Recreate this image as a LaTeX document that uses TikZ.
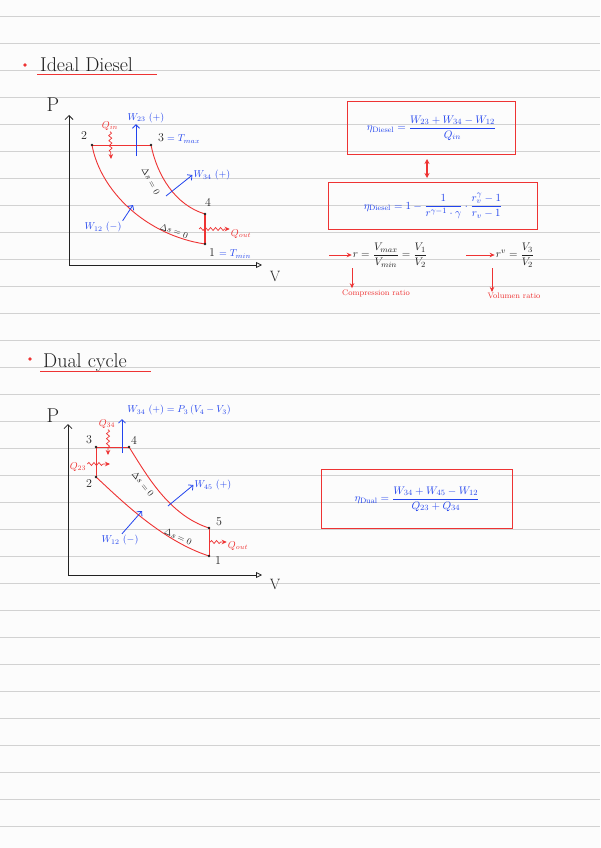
\documentclass[tikz,border=0pt]{standalone}
\usepackage{amsmath,amssymb}
\usepackage{xcolor}
\usepackage{tikz}
\usetikzlibrary{arrows.meta,decorations.pathmorphing}

\definecolor{penred}{HTML}{EE3333}
\definecolor{penblue}{HTML}{2244EE}
\definecolor{penblack}{HTML}{222222}
\definecolor{paper}{HTML}{FCFCFC}
\definecolor{ruleline}{HTML}{D2D2D2}

\tikzset{
  axis/.style={penblack, line width=0.8pt},
  cycleline/.style={penred, line width=0.9pt},
  workarrow/.style={penblue, line width=0.8pt, -{Straight Barb[length=3.5pt]}},
  heatwave/.style={penred, line width=0.7pt, -{Stealth[length=5pt,width=4.5pt]},
    decorate, decoration={snake, amplitude=1.5pt, segment length=5pt, post length=5pt}},
  redarrow/.style={penred, line width=0.8pt, -{Stealth[length=5pt,width=4.5pt]}},
  lbl/.style={penblack, font=\fontsize{12}{12}\selectfont, inner sep=1pt},
  wlbl/.style={penblue, font=\fontsize{10}{10}\selectfont, inner sep=1pt},
  qlbl/.style={penred, font=\fontsize{10}{10}\selectfont, inner sep=1pt},
  slbl/.style={penblack, font=\fontsize{9}{9}\selectfont, inner sep=0pt},
  notelbl/.style={penred, font=\fontsize{8}{8}\selectfont, inner sep=1pt},
  effbox/.style={penblue, font=\fontsize{11}{13}\selectfont, inner sep=0pt},
  boxline/.style={draw=penred, line width=0.9pt},
  heading/.style={penblack, font=\fontsize{20}{20}\selectfont, inner sep=0pt, anchor=base west},
}

\begin{document}
\begin{tikzpicture}[x=1pt, y=-1pt]
  \useasboundingbox (0,0) rectangle (600,848);
  \fill[paper] (0,0) rectangle (600,848);
  \foreach \k in {0,...,30}
    \draw[ruleline, line width=0.7pt] (0,{16.3+27*\k}) -- (600,{16.3+27*\k});

  % ---- Ideal Diesel ----
  \fill[penred] (25,65) circle (1.8);
  \node[heading] (title1) at (40,72) {Ideal Diesel};
  \coordinate (ul1a) at (37,74.5);
  \coordinate (ul1b) at (157,74.5);
  \draw[penred, line width=0.9pt] (ul1a) -- (ul1b);

  \coordinate (o1) at (69,265);
  \coordinate (ptop1) at (69,115);
  \coordinate (vend1) at (262,265);
  \draw[axis, {Triangle[open,length=6pt,width=6pt]}-{Straight Barb[length=4pt]}] (vend1) -- (o1) -- (ptop1);
  \node[penblack, font=\fontsize{20}{20}\selectfont] (pax1) at (53,105) {P};
  \node[penblack, font=\fontsize{15}{15}\selectfont] (vax1) at (275,276) {V};

  \coordinate (a1) at (205,244);
  \coordinate (a2) at (92,145);
  \coordinate (a3) at (151,145);
  \coordinate (a4) at (205,214);
  \draw[cycleline] (a2) -- (a3);
  \draw[cycleline] (a3) .. controls (157,175) and (175,205) .. (a4);
  \draw[cycleline, line width=1.4pt] (a4) -- (a1);
  \draw[cycleline] (a2) .. controls (100,190) and (145,235) .. (a1);
  \foreach \p in {a1,a2,a3,a4}
    \fill[penblack] (\p) circle (1.4);

  \node[lbl] (n2) at (84,136) {2};
  \node[lbl] (n3) at (161,138) {3};
  \node[wlbl, anchor=west] (tmax) at (166,139) {$=T_{max}$};
  \node[lbl] (n4) at (208,202) {4};
  \node[lbl] (n1) at (212,253) {1};
  \node[wlbl, anchor=west] (tmin) at (218,254) {$=T_{min}$};

  \node[qlbl] (qin) at (110,126) {$Q_{in}$};
  \coordinate (qinend) at (111,159);
  \draw[heatwave] (qin.south) -- (qinend);
  \node[wlbl] (w23) at (146,118) {$W_{23}\ (+)$};
  \coordinate (w23foot) at (136,156);
  \draw[workarrow] (w23foot) -- (w23foot |- w23.south);
  \node[wlbl] (w34) at (212,175) {$W_{34}\ (+)$};
  \coordinate (w34foot) at (166,196);
  \draw[workarrow] (w34foot) -- (w34.west);
  \node[wlbl] (w12) at (103,227) {$W_{12}\ (-)$};
  \coordinate (w12tip) at (133,205);
  \draw[workarrow] (w12.north east) -- (w12tip);
  \node[qlbl] (qout) at (241,234) {$Q_{out}$};
  \coordinate (qoutfoot) at (199,229);
  \draw[heatwave] (qoutfoot) -- (qout.west |- qoutfoot);
  \node[slbl, rotate=-62] (ds34) at (151,181) {$\Delta s=0$};
  \node[slbl, rotate=-19] (ds12) at (174,231) {$\Delta s=0$};

  % efficiency, Diesel
  \node[effbox, minimum width=167pt, minimum height=52pt] (eff1) at (431.5,128)
    {$\eta_{\text{Diesel}} = \dfrac{W_{23}+W_{34}-W_{12}}{Q_{in}}$};
  \draw[boxline] (eff1.north west) rectangle (eff1.south east);
  \node[effbox, minimum width=208pt, minimum height=46pt] (eff2) at (433,206)
    {$\eta_{\text{Diesel}} = 1-\dfrac{1}{r^{\gamma-1}\cdot\gamma}\cdot\dfrac{r_v^{\gamma}-1}{r_v-1}$};
  \draw[boxline] (eff2.north west) rectangle (eff2.south east);
  \coordinate (dbl1) at (427,159);
  \coordinate (dbl2) at (427,178);
  \draw[penred, line width=1.2pt, {Stealth[length=5pt,width=5pt]}-{Stealth[length=5pt,width=5pt]}] (dbl1) -- (dbl2);

  \node[penblack, font=\fontsize{11}{11}\selectfont, inner sep=1pt] (rc) at (390,255)
    {$r=\dfrac{V_{max}}{V_{min}}=\dfrac{V_1}{V_2}$};
  \node[penblack, font=\fontsize{11}{11}\selectfont, inner sep=1pt] (rv) at (515,255)
    {$r^{v}=\dfrac{V_3}{V_2}$};
  \coordinate (rcin) at (329,255);
  \coordinate (rvin) at (466,255);
  \draw[redarrow] (rcin) -- (rc.west);
  \draw[redarrow] (rvin) -- (rv.west);
  \node[notelbl] (crlbl) at (376,293) {Compression ratio};
  \node[notelbl] (vrlbl) at (514,296) {Volumen ratio};
  \coordinate (crtop) at (352,268);
  \coordinate (vrtop) at (492,268);
  \draw[redarrow] (crtop) -- (crtop |- crlbl.north);
  \draw[redarrow] (vrtop) -- (vrtop |- vrlbl.north);

  % ---- Dual cycle ----
  \fill[penred] (30,359) circle (1.8);
  \node[heading] (title2) at (43,367) {Dual cycle};
  \coordinate (ul2a) at (40,371);
  \coordinate (ul2b) at (151,371);
  \draw[penred, line width=0.9pt] (ul2a) -- (ul2b);

  \coordinate (o2) at (68,575);
  \coordinate (ptop2) at (68,424);
  \coordinate (vend2) at (262,575);
  \draw[axis, {Triangle[open,length=6pt,width=6pt]}-{Straight Barb[length=4pt]}] (vend2) -- (o2) -- (ptop2);
  \node[penblack, font=\fontsize{20}{20}\selectfont] (pax2) at (53,416) {P};
  \node[penblack, font=\fontsize{15}{15}\selectfont] (vax2) at (275,584) {V};

  \coordinate (b1) at (209,556);
  \coordinate (b2) at (96,477);
  \coordinate (b3) at (96,447);
  \coordinate (b4) at (129,447);
  \coordinate (b5) at (209,528);
  \draw[cycleline] (b2) -- (b3) -- (b4);
  \draw[cycleline] (b4) .. controls (145,472) and (168,515) .. (b5);
  \draw[cycleline] (b5) -- (b1);
  \draw[cycleline] (b2) .. controls (118,497) and (160,540) .. (b1);
  \foreach \p in {b1,b2,b3,b4,b5}
    \fill[penblack] (\p) circle (1.4);

  \node[lbl] (m3) at (89,440) {3};
  \node[lbl] (m4) at (134,440) {4};
  \node[lbl] (m2) at (89,484) {2};
  \node[lbl] (m5) at (219,522) {5};
  \node[lbl] (m1) at (218,561) {1};

  \node[qlbl] (q34) at (107,424) {$Q_{34}$};
  \coordinate (q34end) at (108,455);
  \draw[heatwave] (q34.south -| q34end) -- (q34end);
  \node[qlbl] (q23) at (78,467) {$Q_{23}$};
  \coordinate (q23end) at (110,464);
  \draw[heatwave] (q23.east |- q23end) -- (q23end);
  \node[wlbl] (w34b) at (179,410) {$W_{34}\ (+) = P_3\,(V_4-V_3)$};
  \coordinate (w34bfoot) at (122,453);
  \coordinate (w34btip) at (122,419);
  \draw[workarrow] (w34bfoot) -- (w34btip);
  \node[wlbl] (w45) at (213,485) {$W_{45}\ (+)$};
  \coordinate (w45foot) at (168,506);
  \draw[workarrow] (w45foot) -- (w45.west);
  \node[wlbl] (w12b) at (120,540) {$W_{12}\ (-)$};
  \coordinate (w12btip) at (142,511);
  \draw[workarrow] (w12b.north) ++(2,0) coordinate (w12bfoot) -- (w12btip);
  \node[qlbl] (qoutb) at (238,546) {$Q_{out}$};
  \coordinate (qoutbfoot) at (210,542);
  \draw[heatwave] (qoutbfoot) -- (qoutb.west |- qoutbfoot);
  \node[slbl, rotate=-51] (ds45) at (143,484) {$\Delta s=0$};
  \node[slbl, rotate=-24] (ds12b) at (178,537) {$\Delta s=0$};

  % efficiency, Dual
  \node[effbox, minimum width=190pt, minimum height=58pt] (eff3) at (417,499)
    {$\eta_{\text{Dual}} = \dfrac{W_{34}+W_{45}-W_{12}}{Q_{23}+Q_{34}}$};
  \draw[boxline] (eff3.north west) rectangle (eff3.south east);
\end{tikzpicture}
\end{document}
